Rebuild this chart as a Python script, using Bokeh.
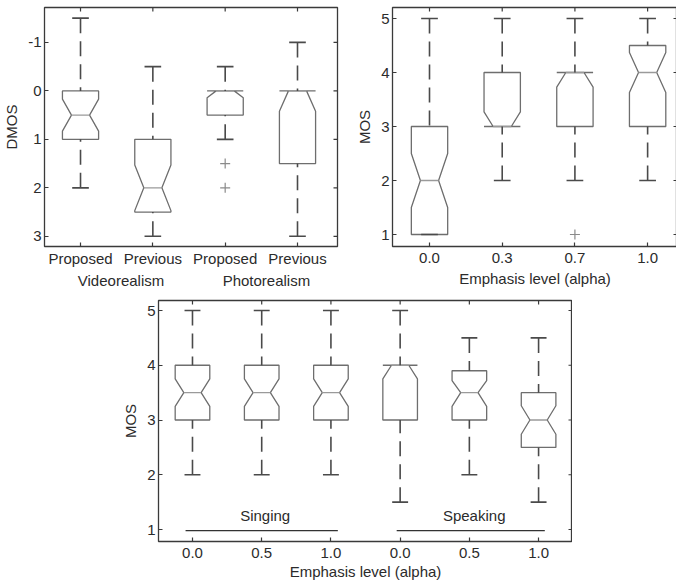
import numpy as np
from bokeh.plotting import figure
from bokeh.models import Range1d, FixedTicker, LinearAxis
from bokeh.layouts import column, row
from bokeh.embed import file_html
from bokeh.resources import INLINE

# ---------------- data ----------------
# Panel 1: DMOS (Videorealism / Photorealism)
dmos_labels = ["Proposed", "Previous", "Proposed", "Previous"]
dmos_groups = ["Videorealism", "Photorealism"]
dmos_min = [-1.5, -0.5, -0.5, -1.0]
dmos_q1 = [0.0, 1.0, 0.0, 0.0]
dmos_med = [0.5, 2.0, 0.0, 0.0]
dmos_q3 = [1.0, 2.5, 0.5, 1.5]
dmos_max = [2.0, 3.0, 1.0, 3.0]
dmos_notch_lo = [0.17, 1.53, -0.14, -0.42]
dmos_notch_hi = [0.83, 2.47, 0.14, 0.42]
dmos_out_pos = [3, 3]
dmos_out_val = [1.5, 2.0]
dmos_yticks = [-1, 0, 1, 2, 3]

# Panel 2: MOS vs emphasis level
emph_labels = ["0.0", "0.3", "0.7", "1.0"]
mos2_min = [1.0, 2.0, 2.0, 2.0]
mos2_q1 = [1.0, 3.0, 3.0, 3.0]
mos2_med = [2.0, 3.0, 4.0, 4.0]
mos2_q3 = [3.0, 4.0, 4.0, 4.5]
mos2_max = [5.0, 5.0, 5.0, 5.0]
mos2_notch_lo = [1.5, 2.73, 3.73, 3.63]
mos2_notch_hi = [2.5, 3.27, 4.27, 4.37]
mos2_out_pos = [3]
mos2_out_val = [1.0]

# Panel 3: MOS singing / speaking
emph3_labels = ["0.0", "0.5", "1.0", "0.0", "0.5", "1.0"]
mode_names = ["Singing", "Speaking"]
mos3_min = [2.0, 2.0, 2.0, 1.5, 2.0, 1.5]
mos3_q1 = [3.0, 3.0, 3.0, 3.0, 3.0, 2.5]
mos3_med = [3.5, 3.5, 3.5, 4.0, 3.5, 3.0]
mos3_q3 = [4.0, 4.0, 4.0, 4.0, 3.9, 3.5]
mos3_max = [5.0, 5.0, 5.0, 5.0, 4.5, 4.5]
mos3_notch_lo = [3.25, 3.25, 3.25, 3.75, 3.25, 2.74]
mos3_notch_hi = [3.75, 3.75, 3.75, 4.25, 3.72, 3.26]
mos_yticks = [1, 2, 3, 4, 5]

FONT = "Liberation Sans"
TXT = "#2b2b2b"
BOX_C = "#6e6e6e"
MED_C = "#9a9a9a"
WHISK_C = "#4a4a4a"
FRAME_C = "#3a3a3a"
TICK_LEN = 4  # px


def style_axis(ax, ticks, overrides=None):
    ax.ticker = FixedTicker(ticks=ticks)
    ax.axis_line_color = None
    ax.major_tick_in = TICK_LEN
    ax.major_tick_out = 0
    ax.major_tick_line_color = FRAME_C
    ax.major_tick_line_width = 1.2
    ax.minor_tick_line_color = None
    ax.major_label_text_font = FONT
    ax.major_label_text_color = TXT
    ax.major_label_text_font_size = "15px"
    ax.major_label_standoff = 3
    ax.axis_label_text_font = FONT
    ax.axis_label_text_color = TXT
    ax.axis_label_text_font_style = "normal"
    ax.axis_label_text_font_size = "15px"
    ax.axis_label_standoff = 5
    if overrides is not None:
        ax.major_label_overrides = overrides


def make_fig(fw, fh, xr, yr, mbl, mbr, mbt, mbb):
    p = figure(frame_width=fw, frame_height=fh, x_range=Range1d(*xr), y_range=Range1d(*yr),
               output_backend="svg", toolbar_location=None,
               min_border_left=mbl, min_border_right=mbr, min_border_top=mbt, min_border_bottom=mbb)
    p.xgrid.visible = False
    p.ygrid.visible = False
    p.outline_line_color = FRAME_C
    p.outline_line_width = 1.3
    p.background_fill_color = "white"
    p.border_fill_color = "white"
    return p


def add_mirror_ticks(p, xticks, yticks):
    # inward ticks on the right and top edges, length converted from pixels to data units
    xs, xe = p.x_range.start, p.x_range.end
    ys, ye = p.y_range.start, p.y_range.end
    dx = TICK_LEN * (xe - xs) / p.frame_width
    dy = TICK_LEN * (ye - ys) / p.frame_height
    p.segment(x0=[xe] * len(yticks), x1=[xe - dx] * len(yticks), y0=yticks, y1=yticks,
              line_color=FRAME_C, line_width=1.2)
    p.segment(x0=xticks, x1=xticks, y0=[ye] * len(xticks), y1=[ye - dy] * len(xticks),
              line_color=FRAME_C, line_width=1.2)


def draw_boxes(p, lo, q1, med, q3, hi, nlo, nhi, out_pos=None, out_val=None):
    n = len(q1)
    xs_all, ys_all = [], []
    w, nw, cw = 0.25, 0.125, 0.115
    for i in range(n):
        x = i + 1
        a = max(nlo[i], q1[i])
        b = min(nhi[i], q3[i])
        xs_all.append([x - w, x - w, x - nw, x - w, x - w, x + w, x + w, x + nw, x + w, x + w])
        ys_all.append([q1[i], a, med[i], b, q3[i], q3[i], b, med[i], a, q1[i]])
    p.patches(xs_all, ys_all, fill_color=None, line_color=BOX_C, line_width=1.3)
    pos = np.arange(1, n + 1)
    p.segment(x0=pos - nw, x1=pos + nw, y0=med, y1=med, line_color=MED_C, line_width=1.3)
    p.segment(x0=pos, x1=pos, y0=hi, y1=q3, line_color=WHISK_C, line_width=1.6, line_dash="15 8")
    p.segment(x0=pos, x1=pos, y0=lo, y1=q1, line_color=WHISK_C, line_width=1.6, line_dash="15 8")
    p.segment(x0=pos - cw, x1=pos + cw, y0=hi, y1=hi, line_color=WHISK_C, line_width=1.6)
    p.segment(x0=pos - cw, x1=pos + cw, y0=lo, y1=lo, line_color=WHISK_C, line_width=1.6)
    if out_pos:
        p.scatter(out_pos, out_val, marker="cross", size=10, line_color="#8a8a8a", line_width=1.2)


# ---------------- panel 1 ----------------
p1 = make_fig(293, 239, (0.502, 4.553), (3.21, -1.72), 34, 15, 7, 45)
style_axis(p1.xaxis[0], [1, 2, 3, 4], {i + 1: s for i, s in enumerate(dmos_labels)})
p1.xaxis[0].major_label_standoff = 3
style_axis(p1.yaxis[0], dmos_yticks, {t: str(t) for t in dmos_yticks})
p1.yaxis[0].axis_label = "DMOS"
add_mirror_ticks(p1, [1, 2, 3, 4], dmos_yticks)
draw_boxes(p1, dmos_min, dmos_q1, dmos_med, dmos_q3, dmos_max, dmos_notch_lo, dmos_notch_hi,
           dmos_out_pos, dmos_out_val)
# group names under the category labels
grp_axis = LinearAxis()
style_axis(grp_axis, [1.56, 3.57], {1.56: dmos_groups[0], 3.57: dmos_groups[1]})
grp_axis.major_tick_in = 0
grp_axis.major_label_standoff = 2
p1.add_layout(grp_axis, "below")

# ---------------- panel 2 ----------------
p2 = make_fig(285, 239, (0.491, 4.411), (0.778, 5.204), 40, 0, 7, 45)
style_axis(p2.xaxis[0], [1, 2, 3, 4], {i + 1: s for i, s in enumerate(emph_labels)})
p2.xaxis[0].major_label_standoff = 6
style_axis(p2.yaxis[0], mos_yticks, {t: str(t) for t in mos_yticks})
p2.xaxis[0].axis_label = "Emphasis level (alpha)"
p2.xaxis[0].axis_label_standoff = 4
p2.yaxis[0].axis_label = "MOS"
add_mirror_ticks(p2, [1, 2, 3, 4], mos_yticks)
draw_boxes(p2, mos2_min, mos2_q1, mos2_med, mos2_q3, mos2_max, mos2_notch_lo, mos2_notch_hi,
           mos2_out_pos, mos2_out_val)

# ---------------- panel 3 ----------------
p3 = make_fig(414, 241, (0.509, 6.49), (0.781, 5.183), 158, 0, 9, 40)
style_axis(p3.xaxis[0], [1, 2, 3, 4, 5, 6], {i + 1: s for i, s in enumerate(emph3_labels)})
p3.xaxis[0].major_label_standoff = 6
style_axis(p3.yaxis[0], mos_yticks, {t: str(t) for t in mos_yticks})
p3.xaxis[0].axis_label = "Emphasis level (alpha)"
p3.xaxis[0].axis_label_standoff = 2
p3.yaxis[0].axis_label = "MOS"
add_mirror_ticks(p3, [1, 2, 3, 4, 5, 6], mos_yticks)
draw_boxes(p3, mos3_min, mos3_q1, mos3_med, mos3_q3, mos3_max, mos3_notch_lo, mos3_notch_hi)
p3.segment(x0=[0.9, 3.95], x1=[3.1, 6.09], y0=[0.98, 0.98], y1=[0.98, 0.98],
           line_color="#333333", line_width=1.3)
p3.text(x=[2.05, 5.07], y=[1.256, 1.256], text=mode_names, text_align="center",
        text_baseline="middle", text_font={"value": FONT}, text_font_size={"value": "15px"},
        text_color=TXT)

layout = column(row(p1, p2), p3)
open("out.html", "w").write(file_html(layout, INLINE))
